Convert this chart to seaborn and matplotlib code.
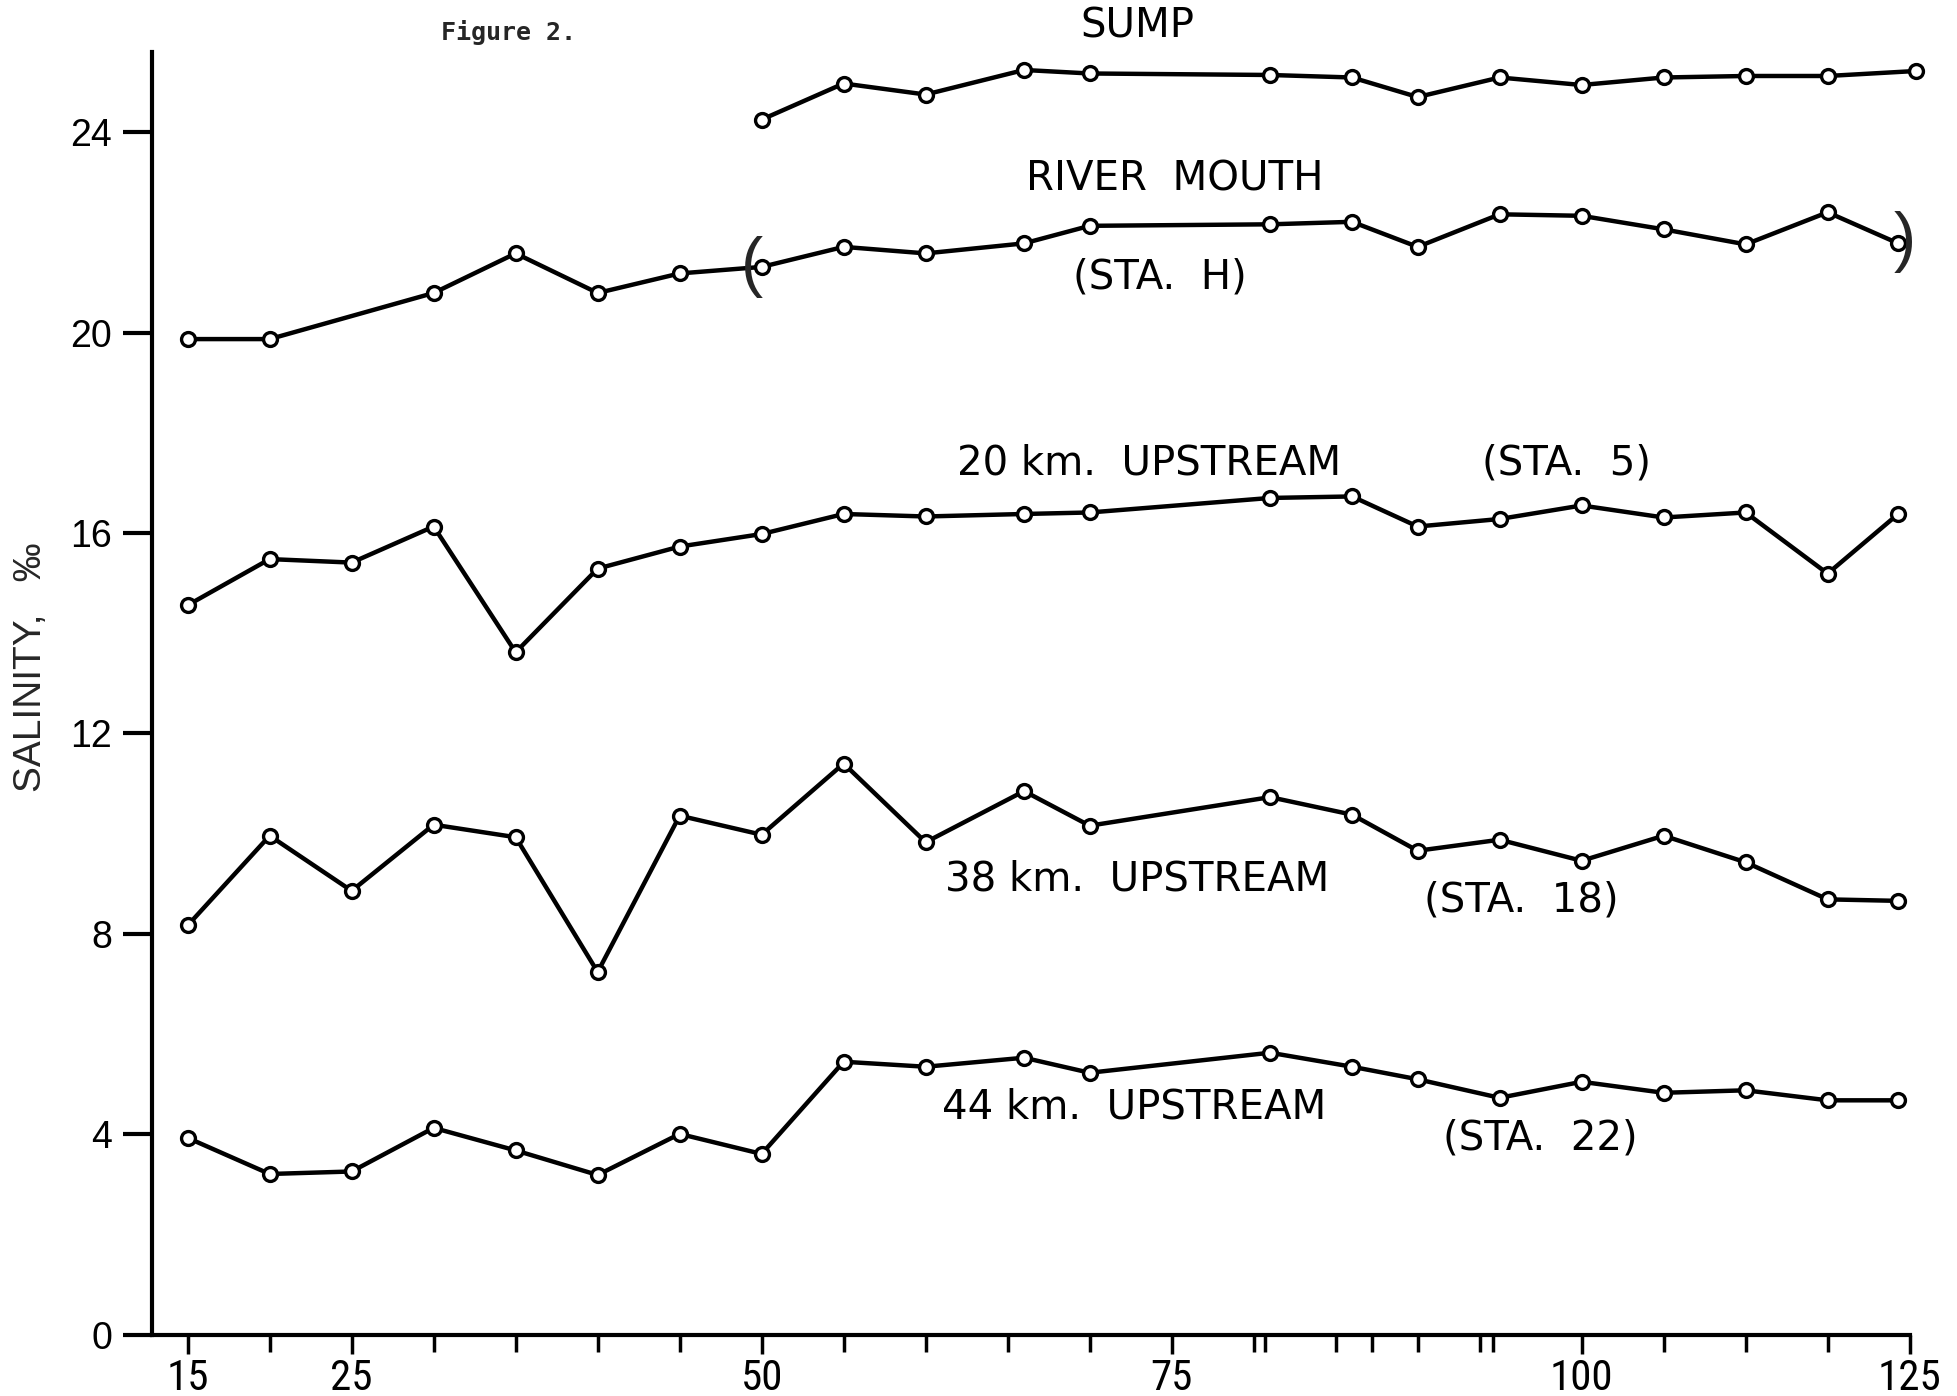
import matplotlib
matplotlib.use("Agg")
import matplotlib.pyplot as plt
import seaborn as sns
import pandas as pd
from matplotlib import font_manager

# ---------------- data ----------------
days_main = [15, 20, 25, 30, 35, 40, 45, 50, 55, 60, 66, 70, 81, 86, 90, 95, 100, 105, 110, 115, 119.3]

sump_days = [50, 55, 60, 66, 70, 81, 86, 90, 95, 100, 105, 110, 115, 120.4]
sump = [24.25, 24.97, 24.75, 25.24, 25.17, 25.14, 25.09, 24.70, 25.09, 24.94, 25.09, 25.12, 25.12, 25.22]

river_days = [15, 20, 30, 35, 40, 45, 50, 55, 60, 66, 70, 81, 86, 90, 95, 100, 105, 110, 115, 119.3]
river = [19.87, 19.87, 20.79, 21.58, 20.79, 21.18, 21.31, 21.71, 21.58, 21.78, 22.13, 22.16, 22.21,
         21.71, 22.36, 22.33, 22.06, 21.76, 22.40, 21.78]

sta5 = [14.56, 15.48, 15.41, 16.13, 13.62, 15.29, 15.73, 15.98, 16.38, 16.33, 16.38, 16.41, 16.70,
        16.73, 16.13, 16.28, 16.55, 16.31, 16.41, 15.19, 16.38]
sta18 = [8.17, 9.96, 8.86, 10.18, 9.93, 7.24, 10.36, 9.98, 11.40, 9.83, 10.85, 10.16, 10.73,
         10.38, 9.66, 9.88, 9.46, 9.96, 9.43, 8.69, 8.66]
sta22 = [3.93, 3.21, 3.26, 4.13, 3.68, 3.19, 4.01, 3.61, 5.45, 5.35, 5.53, 5.23, 5.63,
         5.35, 5.10, 4.73, 5.05, 4.83, 4.88, 4.68, 4.68]

y_ticks = [0, 4, 8, 12, 16, 20, 24]
x_major_pos = [15, 25, 50, 75, 100, 120]
x_major_labels = ["15", "25", "50", "75", "100", "125"]
x_minor_pos = [20, 30, 35, 40, 45, 55, 60, 65, 70, 80, 80.7, 85, 87.2, 90, 93.8, 94.6, 105, 110, 115]

# ---------------- style ----------------
sns.set_style("ticks")
names = {f.name for f in font_manager.fontManager.ttflist}
narrow = None
for cand in ["Liberation Sans Narrow", "Roboto Condensed", "Open Sans Condensed", "DejaVu Sans Condensed"]:
    if cand in names:
        narrow = cand
        break
if narrow is None:
    narrow = "Liberation Sans"
plt.rcParams['font.family'] = ['DejaVu Sans']

fig = plt.figure(figsize=(19.57, 13.96), dpi=100)
ax = fig.add_axes([0.0778, 0.0438, 0.898, 0.919])

line_kw = dict(color="black", linewidth=3.2, marker="o", markersize=10,
               markerfacecolor="white", markeredgecolor="black", markeredgewidth=2.4,
               sort=False, clip_on=False)

series = [
    (sump_days, sump),
    (river_days, river),
    (days_main, sta5),
    (days_main, sta18),
    (days_main, sta22),
]
for xs, ys in series:
    df = pd.DataFrame({"day": xs, "sal": ys})
    sns.lineplot(data=df, x="day", y="sal", ax=ax, **line_kw)

ax.set_xlim(12.84, 119.83)
ax.set_ylim(0, 25.6)

for s in ["top", "right"]:
    ax.spines[s].set_visible(False)
for s in ["left", "bottom"]:
    ax.spines[s].set_linewidth(3)
    ax.spines[s].set_color("black")

ax.set_yticks(y_ticks)
ax.set_yticklabels([str(v) for v in y_ticks], fontfamily="Liberation Sans")
ax.tick_params(axis="y", left=True, direction="out", length=21, width=3, labelsize=27, pad=8,
               color="black", labelcolor="black")

ax.set_xticks(x_major_pos)
ax.set_xticklabels(x_major_labels, fontfamily=narrow)
ax.set_xticks(x_minor_pos, minor=True)
ax.tick_params(axis="x", which="major", bottom=True, direction="out", length=14, width=2.5,
               labelsize=31, pad=3, color="black", labelcolor="black")
ax.tick_params(axis="x", which="minor", bottom=True, direction="out", length=12, width=2.5,
               color="black")
ax.set_xlabel("")
ax.set_ylabel("")

txt = dict(ha="center", va="center", fontsize=29, color="black", family=["DejaVu Sans"])
ax.text(72.9, 26.1, "SUMP", clip_on=False, **txt)
ax.text(75.2, 23.05, "RIVER  MOUTH", **txt)
ax.text(74.3, 21.1, "(STA.  H)", **txt)
ax.text(73.6, 17.38, "20 km.  UPSTREAM", **txt)
ax.text(99.1, 17.38, "(STA.  5)", **txt)
ax.text(72.9, 9.09, "38 km.  UPSTREAM", **txt)
ax.text(96.3, 8.66, "(STA.  18)", **txt)
ax.text(72.7, 4.53, "44 km.  UPSTREAM", **txt)
ax.text(97.5, 3.91, "(STA.  22)", **txt)
ax.text(49.4, 21.3, "(", ha="center", va="center", fontsize=48, family=["Liberation Sans"])
ax.text(119.7, 21.8, ")", ha="center", va="center", fontsize=48, family=["Liberation Sans"],
        clip_on=False)

fig.text(0.2596, 0.9768, "Figure 2.", ha="center", va="center", fontsize=18,
         fontweight="bold", family=["DejaVu Sans Mono"])
fig.text(0.016, 0.522, "SALINITY,   ‰", rotation=90, ha="center", va="center",
         fontsize=28, family=["Liberation Sans", "DejaVu Sans"])

fig.savefig("out.png", dpi=100, facecolor="white")
